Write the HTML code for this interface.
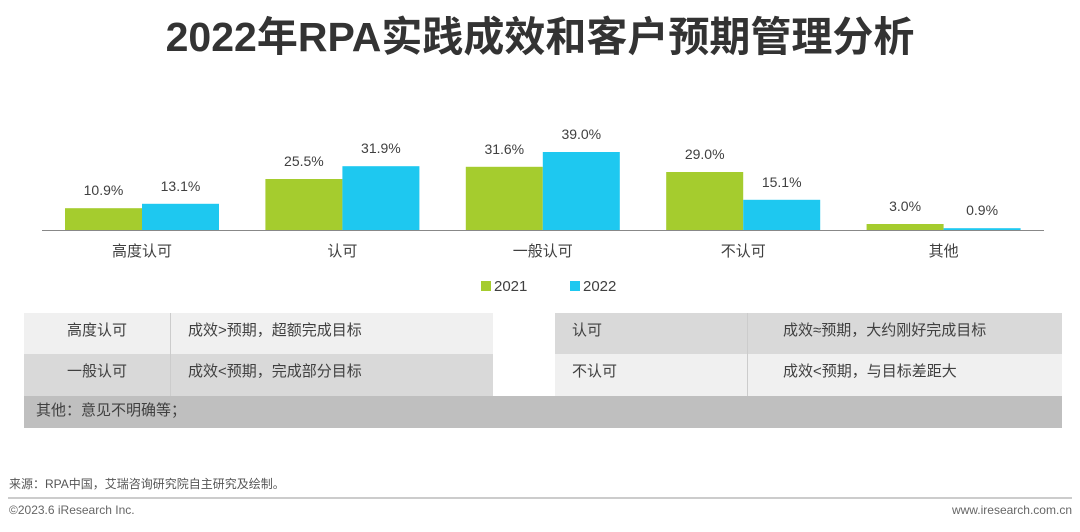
<!DOCTYPE html>
<html><head><meta charset="utf-8"><style>
body{margin:0;width:1080px;height:532px;background:#fff;position:relative;overflow:hidden;font-family:"Liberation Sans","Noto Sans CJK SC",sans-serif;color:#404040}
.a{position:absolute}
.cell{position:absolute;font-size:15px;line-height:20px;color:#404040;box-sizing:border-box}
</style></head><body>
<div class="a" style="left:0;top:12px;width:1080px;text-align:center;font-size:41px;font-weight:bold;color:#333;line-height:50px">2022年RPA实践成效和客户预期管理分析</div>
<svg class="a" style="left:0;top:0" width="1080" height="300" id="chart"></svg>
<div class="cell" style="left:24px;top:313px;width:146px;height:41px;background:#f0f0f0;text-align:center;padding-top:8px">高度认可</div>
<div class="cell" style="left:170px;top:313px;width:323px;height:41px;background:#f0f0f0;border-left:1px solid #ccc;padding:8px 0 0 17px">成效&gt;预期，超额完成目标</div>
<div class="cell" style="left:24px;top:354px;width:146px;height:42px;background:#d9d9d9;text-align:center;padding-top:8px">一般认可</div>
<div class="cell" style="left:170px;top:354px;width:323px;height:42px;background:#d9d9d9;border-left:1px solid #ccc;padding:8px 0 0 17px">成效&lt;预期，完成部分目标</div>
<div class="cell" style="left:555px;top:313px;width:192px;height:41px;background:#d9d9d9;padding:8px 0 0 17px">认可</div>
<div class="cell" style="left:747px;top:313px;width:315px;height:41px;background:#d9d9d9;border-left:1px solid #ccc;padding:8px 0 0 35px">成效≈预期，大约刚好完成目标</div>
<div class="cell" style="left:555px;top:354px;width:192px;height:42px;background:#f0f0f0;padding:8px 0 0 17px">不认可</div>
<div class="cell" style="left:747px;top:354px;width:315px;height:42px;background:#f0f0f0;border-left:1px solid #ccc;padding:8px 0 0 35px">成效&lt;预期，与目标差距大</div>
<div class="cell" style="left:24px;top:396px;width:1038px;height:32px;background:#bfbfbf;padding:5px 0 0 12px">其他：意见不明确等；</div>
<div class="a" style="left:9px;top:475px;font-size:12px;color:#555">来源：RPA中国，艾瑞咨询研究院自主研究及绘制。</div>
<div class="a" style="left:8px;top:497px;width:1064px;height:2px;background:#ccc"></div>
<div class="a" style="left:9px;top:503px;font-size:12px;color:#666">©2023.6 iResearch Inc.</div>
<div class="a" style="right:8px;top:503px;font-size:12px;color:#666">www.iresearch.com.cn</div>
<script>
const categories=["高度认可","认可","一般认可","不认可","其他"];
const series2021=[10.9,25.5,31.6,29.0,3.0];
const series2022=[13.1,31.9,39.0,15.1,0.9];
const seriesNames=["2021","2022"];
const colors=["#a5cc2e","#1ec8f0"];
const svg=document.getElementById('chart');
const NS="http://www.w3.org/2000/svg";
const base=230,scale=2.0,x0=42,step=200.4,bw=77;
const y=v=>base-v*scale;
function mk(t,a){const e=document.createElementNS(NS,t);for(const k in a)e.setAttribute(k,a[k]);svg.appendChild(e);return e;}
[series2021,series2022].forEach((s,si)=>{
 s.forEach((v,i)=>{
  const cx=x0+step*i+100;
  const bx=si===0?cx-bw:cx;
  const r=mk('rect',{x:bx,y:y(v),width:bw,height:v*scale,fill:colors[si]});
  
  
  const t=mk('text',{x:bx+bw/2,y:y(v)-13,'text-anchor':'middle','font-size':14,fill:'#404040'});
  t.textContent=v.toFixed(1)+'%';
  
  
 });
});
const ax=mk('line',{x1:x0,x2:x0+step*5,y1:base+0.5,y2:base+0.5,stroke:'#888','stroke-width':1});


categories.forEach((c,i)=>{
 const t=mk('text',{x:x0+step*i+100,y:base+26,'text-anchor':'middle','font-size':15,fill:'#404040'});
 t.textContent=c;
 
 
});
seriesNames.forEach((n,i)=>{
 const lx=481+i*89;
 const r=mk('rect',{x:lx,y:281,width:10,height:10,fill:colors[i]});
 
 
 const t=mk('text',{x:lx+13,y:291,'font-size':15,fill:'#404040'});
 t.textContent=n;
 
 
});
</script>
</body></html>
